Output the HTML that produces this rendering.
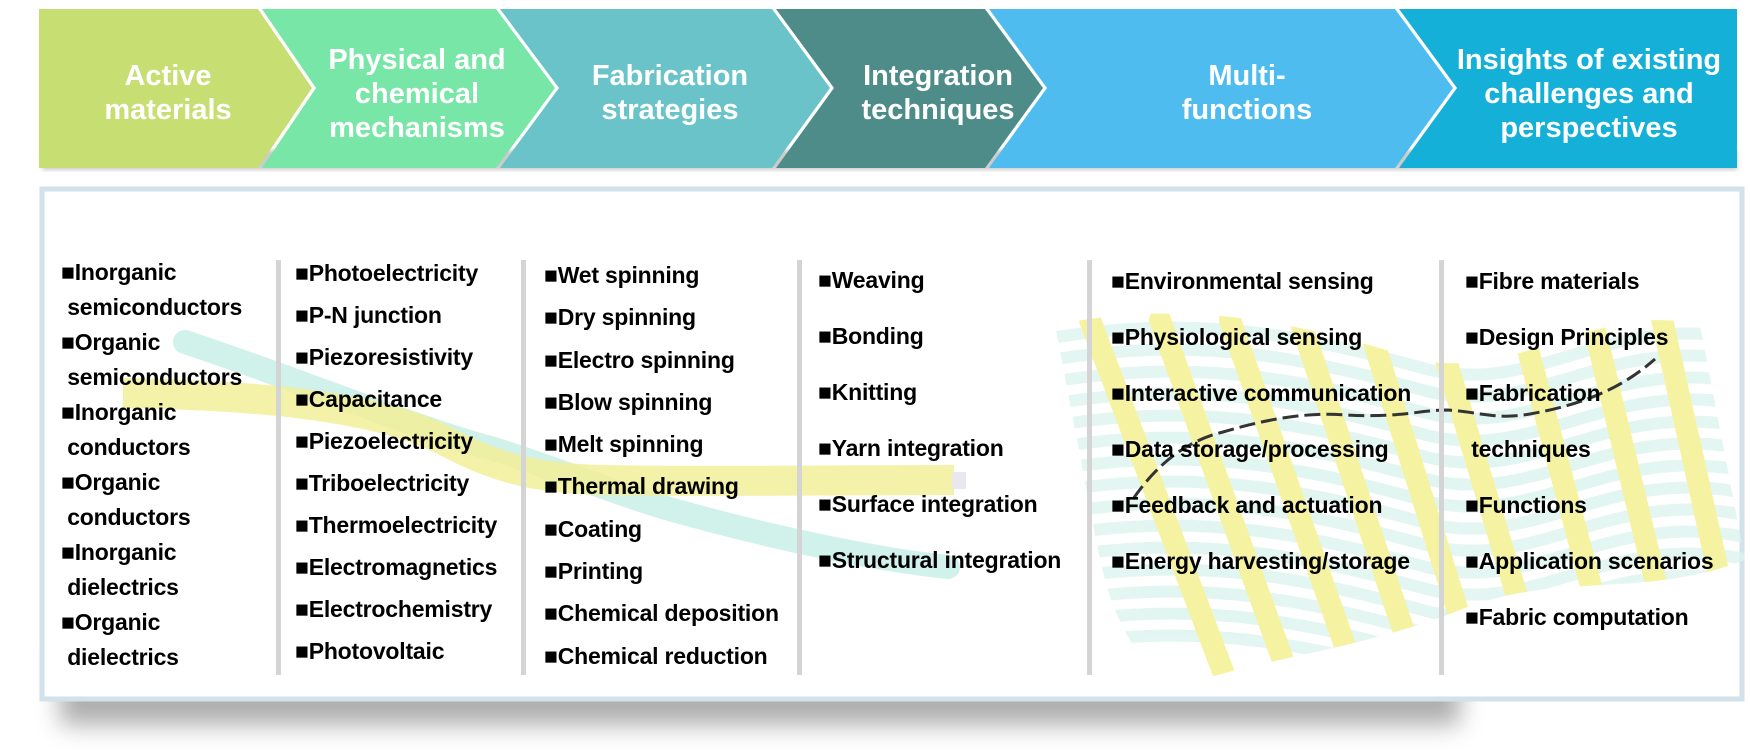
<!DOCTYPE html>
<html><head><meta charset="utf-8"><style>
html,body{margin:0;padding:0;background:#fff;}
#w{position:relative;width:1750px;height:755px;overflow:hidden;background:#fff;font-family:"Liberation Sans",sans-serif;}
.t{position:absolute;font-weight:bold;font-size:23px;color:#000;white-space:nowrap;line-height:24px;letter-spacing:-0.2px;}
.h{position:absolute;color:#fff;font-weight:bold;font-size:29px;line-height:34px;text-align:center;white-space:nowrap;}
.div{position:absolute;top:260px;height:415px;width:5px;background:#d4d4d4;}
</style></head><body><div id="w">
<svg width="1750" height="755" style="position:absolute;left:0;top:0">
<defs>
<filter id="sh" x="-10%" y="-10%" width="120%" height="140%"><feGaussianBlur stdDeviation="12"/></filter>
<filter id="bs"><feGaussianBlur stdDeviation="2"/></filter>
<clipPath id="fab"><path d="M1055 325 C1200 295 1320 330 1420 360 C1520 380 1600 300 1700 325 L1745 560 C1640 600 1560 570 1460 610 C1360 650 1250 660 1170 690 C1120 640 1110 600 1100 560 Z"/></clipPath>
</defs>
<rect x="42" y="150" width="1695" height="20" fill="#999" filter="url(#bs)" opacity="0.5"/>
<polygon points="39,9 258,9 312,88 258,168 39,168" fill="#c6de72"/>
<polygon points="262,9 496,9 555,88 496,168 262,168 316,88" fill="#77e6a6"/>
<polygon points="500,9 772,9 830,88 772,168 500,168 559,88" fill="#6ac3c8"/>
<polygon points="776,9 985,9 1043,88 985,168 776,168 834,88" fill="#4e8c89"/>
<polygon points="989,9 1395,9 1453,88 1395,168 989,168 1047,88" fill="#4fbcf0"/>
<polygon points="1399,9 1737,9 1737,168 1399,168 1457,88" fill="#15b0d8"/>
<rect x="60" y="640" width="1400" height="85" fill="#777" filter="url(#sh)" opacity="0.6"/>
<rect x="42" y="189" width="1700" height="510" fill="#fff" stroke="#d2e2ea" stroke-width="5"/>
<g clip-path="url(#fab)" opacity="0.8">
<g stroke="#dcf4ee" stroke-width="12" fill="none">
<path d="M1040 340 C1200 310 1320 340 1430 370 C1540 395 1610 310 1750 340"/>
<path d="M1040 362 C1200 332 1320 362 1430 392 C1540 417 1610 332 1750 362"/>
<path d="M1040 384 C1200 354 1320 384 1430 414 C1540 439 1610 354 1750 384"/>
<path d="M1040 406 C1200 376 1320 406 1430 436 C1540 461 1610 376 1750 406"/>
<path d="M1040 428 C1200 398 1320 428 1430 458 C1540 483 1610 398 1750 428"/>
<path d="M1040 450 C1200 420 1320 450 1430 480 C1540 505 1610 420 1750 450"/>
<path d="M1040 472 C1200 442 1320 472 1430 502 C1540 527 1610 442 1750 472"/>
<path d="M1040 494 C1200 464 1320 494 1430 524 C1540 549 1610 464 1750 494"/>
<path d="M1040 516 C1200 486 1320 516 1430 546 C1540 571 1610 486 1750 516"/>
<path d="M1040 538 C1200 508 1320 538 1430 568 C1540 593 1610 508 1750 538"/>
<path d="M1040 560 C1200 530 1320 560 1430 590 C1540 615 1610 530 1750 560"/>
<path d="M1040 582 C1200 552 1320 582 1430 612 C1540 637 1610 552 1750 582"/>
<path d="M1040 604 C1200 574 1320 604 1430 634 C1540 659 1610 574 1750 604"/>
<path d="M1040 626 C1200 596 1320 626 1430 656 C1540 681 1610 596 1750 626"/>
<path d="M1040 648 C1200 618 1320 648 1430 678 C1540 703 1610 618 1750 648"/>
</g>
<g stroke="#f3f08a" stroke-width="22" fill="none" stroke-linecap="round">
<path d="M1090 320 L1230 690"/><path d="M1160 320 L1290 680"/><path d="M1230 320 L1350 660"/>
<path d="M1300 320 L1410 650"/><path d="M1370 330 L1470 650"/><path d="M1440 340 L1530 640"/>
<path d="M1520 320 L1600 620"/><path d="M1590 310 L1660 600"/><path d="M1660 310 L1720 580"/>
</g>
</g>
<path d="M1133 499 C1160 460 1190 440 1223 432 C1270 418 1310 412 1346 415 C1400 418 1420 410 1447 410 C1480 412 1495 420 1530 414 C1580 405 1620 390 1655 359" stroke="#333" stroke-width="3" fill="none" stroke-dasharray="16,6"/>
<path d="M185 342 C300 380 420 430 494 449 C560 470 620 495 673 510 C780 540 880 560 948 567" stroke="#c9efe8" stroke-width="24" fill="none" stroke-linecap="round" opacity="0.85"/>
<path d="M123 393 C250 395 380 405 449 443 C500 470 540 478 600 480 C720 482 850 480 954 480" stroke="#f2ee99" stroke-width="30" fill="none" opacity="0.85"/>
<rect x="952" y="472" width="14" height="17" fill="#e8e8ee"/>
</svg>
<div class="div" style="left:276px"></div>
<div class="div" style="left:521px"></div>
<div class="div" style="left:797px"></div>
<div class="div" style="left:1087px"></div>
<div class="div" style="left:1439px"></div>

<div class="h" style="left:48px;top:59px;width:240px">Active<br>materials</div>
<div class="h" style="left:292px;top:43px;width:250px">Physical and<br>chemical<br>mechanisms</div>
<div class="h" style="left:545px;top:59px;width:250px">Fabrication<br>strategies</div>
<div class="h" style="left:838px;top:59px;width:200px">Integration<br>techniques</div>
<div class="h" style="left:1122px;top:59px;width:250px">Multi-<br>functions</div>
<div class="h" style="left:1449px;top:43px;width:280px">Insights of existing<br>challenges and<br>perspectives</div>

<div class="t" style="left:61px;top:255px;line-height:35px">■Inorganic<br>&nbsp;semiconductors<br>■Organic<br>&nbsp;semiconductors<br>■Inorganic<br>&nbsp;conductors<br>■Organic<br>&nbsp;conductors<br>■Inorganic<br>&nbsp;dielectrics<br>■Organic<br>&nbsp;dielectrics</div>
<div class="t" style="left:295px;top:252px;line-height:42px">■Photoelectricity<br>■P-N junction<br>■Piezoresistivity<br>■Capacitance<br>■Piezoelectricity<br>■Triboelectricity<br>■Thermoelectricity<br>■Electromagnetics<br>■Electrochemistry<br>■Photovoltaic</div>
<div class="t" style="left:544px;top:254px;line-height:42.3px">■Wet spinning<br>■Dry spinning<br>■Electro spinning<br>■Blow spinning<br>■Melt spinning<br>■Thermal drawing<br>■Coating<br>■Printing<br>■Chemical deposition<br>■Chemical reduction</div>
<div class="t" style="left:818px;top:252px;line-height:56px">■Weaving<br>■Bonding<br>■Knitting<br>■Yarn integration<br>■Surface integration<br>■Structural integration</div>
<div class="t" style="left:1111px;top:253px;line-height:56px">■Environmental sensing<br>■Physiological sensing<br>■Interactive communication<br>■Data storage/processing<br>■Feedback and actuation<br>■Energy harvesting/storage</div>
<div class="t" style="left:1465px;top:253px;line-height:56px">■Fibre materials<br>■Design Principles<br>■Fabrication<br>&nbsp;techniques<br>■Functions<br>■Application scenarios<br>■Fabric computation</div>
</div></body></html>
